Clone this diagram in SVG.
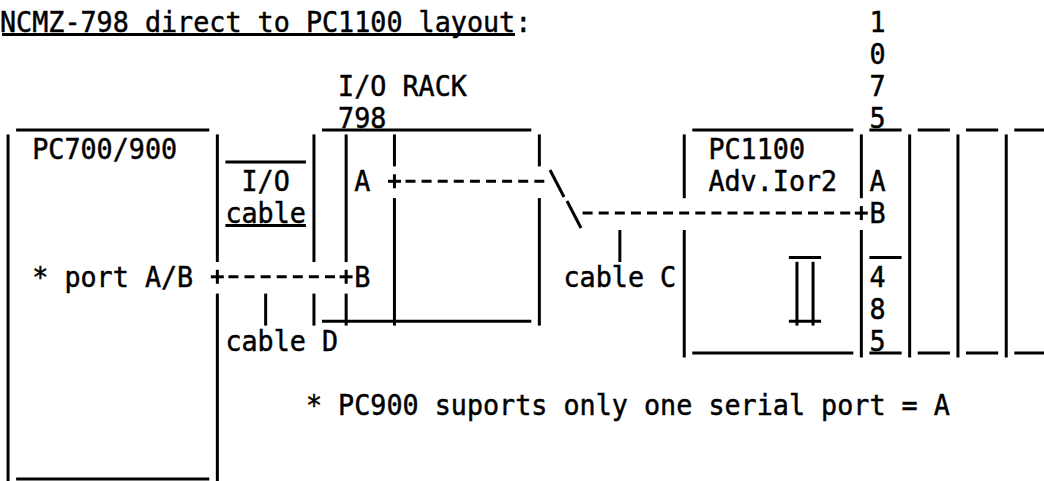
<svg xmlns="http://www.w3.org/2000/svg" width="1044" height="481" viewBox="0 0 1044 481">
<style>
.t{font-family:"DejaVu Sans Mono","Liberation Mono",monospace;font-size:29px;fill:#000;stroke:#000;stroke-width:0.5}
.l{stroke:#000;stroke-width:3;fill:none}
.d{stroke:#000;stroke-width:3;fill:none;stroke-dasharray:10 6.1}
</style>
<rect width="1044" height="481" fill="#fff"/>
<g id="title">
<text class="t" x="0" y="32" textLength="531.3" lengthAdjust="spacingAndGlyphs">NCMZ-798 direct to PC1100 layout:</text>
<line class="l" x1="2" y1="34.5" x2="515" y2="34.5"/>
</g>
<g id="pc700">
<line class="l" x1="16.1" y1="130" x2="209.3" y2="130"/>
<line class="l" x1="16.1" y1="479" x2="209.3" y2="479"/>
<line class="l" x1="8.05" y1="134.4" x2="8.05" y2="481"/>
<line class="l" x1="217.35" y1="134.4" x2="217.35" y2="262"/>
<line class="l" x1="217.35" y1="293.6" x2="217.35" y2="481"/>
<text class="t" x="32.2" y="159.4" textLength="144.9" lengthAdjust="spacingAndGlyphs">PC700/900</text>
<text class="t" x="32.2" y="286.8" textLength="161" lengthAdjust="spacingAndGlyphs">* port A/B</text>
</g>
<g id="io-cable">
<line class="l" x1="225.4" y1="161.9" x2="305.9" y2="161.9"/>
<text class="t" x="241.5" y="191.25" textLength="48.3" lengthAdjust="spacingAndGlyphs">I/O</text>
<text class="t" x="225.4" y="223.1" textLength="80.5" lengthAdjust="spacingAndGlyphs">cable</text>
<line class="l" x1="225.4" y1="225.6" x2="305.9" y2="225.6"/>
<line class="l" x1="313.95" y1="134.4" x2="313.95" y2="262"/>
<line class="l" x1="313.95" y1="293.6" x2="313.95" y2="325.6"/>
<line class="l" x1="265.65" y1="293.6" x2="265.65" y2="325.6"/>
<text class="t" x="225.4" y="350.5" textLength="112.7" lengthAdjust="spacingAndGlyphs">cable D</text>
</g>
<g id="io-rack">
<text class="t" x="338.1" y="95.7" textLength="128.8" lengthAdjust="spacingAndGlyphs">I/O RACK</text>
<text class="t" x="338.1" y="127.55" textLength="48.3" lengthAdjust="spacingAndGlyphs">798</text>
<line class="l" x1="322" y1="130" x2="531.3" y2="130"/>
<line class="l" x1="322" y1="321.2" x2="531.3" y2="321.2"/>
<line class="l" x1="346.15" y1="134.4" x2="346.15" y2="262"/>
<line class="l" x1="346.15" y1="293.6" x2="346.15" y2="325.6"/>
<line class="l" x1="394.45" y1="134.4" x2="394.45" y2="166.4"/>
<line class="l" x1="394.45" y1="198.1" x2="394.45" y2="325.6"/>
<line class="l" x1="539.35" y1="134.4" x2="539.35" y2="166.4"/>
<line class="l" x1="539.35" y1="198.1" x2="539.35" y2="325.6"/>
<text class="t" x="354.2" y="191.25" textLength="16.1" lengthAdjust="spacingAndGlyphs">A</text>
<text class="t" x="354.2" y="286.8" textLength="16.1" lengthAdjust="spacingAndGlyphs">B</text>
</g>
<g id="pc1100">
<line class="l" x1="692.3" y1="130" x2="853.3" y2="130"/>
<line class="l" x1="692.3" y1="353" x2="853.3" y2="353"/>
<line class="l" x1="684.25" y1="134.4" x2="684.25" y2="198.2"/>
<line class="l" x1="684.25" y1="230" x2="684.25" y2="357.5"/>
<line class="l" x1="861.35" y1="134.4" x2="861.35" y2="198.2"/>
<line class="l" x1="861.35" y1="230" x2="861.35" y2="357.5"/>
<text class="t" x="708.4" y="159.4" textLength="96.6" lengthAdjust="spacingAndGlyphs">PC1100</text>
<text class="t" x="708.4" y="191.25" textLength="128.8" lengthAdjust="spacingAndGlyphs">Adv.Ior2</text>
<line class="l" x1="788.9" y1="257.5" x2="821.1" y2="257.5"/>
<line class="l" x1="796.95" y1="261.8" x2="796.95" y2="325.6"/>
<line class="l" x1="813.05" y1="261.8" x2="813.05" y2="325.6"/>
<line class="l" x1="788.9" y1="321.2" x2="821.1" y2="321.2"/>
</g>
<g id="rack-1075">
<text class="t" x="869.4" y="32" textLength="16.1" lengthAdjust="spacingAndGlyphs">1</text>
<text class="t" x="869.4" y="63.85" textLength="16.1" lengthAdjust="spacingAndGlyphs">0</text>
<text class="t" x="869.4" y="95.7" textLength="16.1" lengthAdjust="spacingAndGlyphs">7</text>
<text class="t" x="869.4" y="127.55" textLength="16.1" lengthAdjust="spacingAndGlyphs">5</text>
<text class="t" x="869.4" y="191.25" textLength="16.1" lengthAdjust="spacingAndGlyphs">A</text>
<text class="t" x="869.4" y="223.1" textLength="16.1" lengthAdjust="spacingAndGlyphs">B</text>
<text class="t" x="869.4" y="286.8" textLength="16.1" lengthAdjust="spacingAndGlyphs">4</text>
<text class="t" x="869.4" y="318.65" textLength="16.1" lengthAdjust="spacingAndGlyphs">8</text>
<text class="t" x="869.4" y="350.5" textLength="16.1" lengthAdjust="spacingAndGlyphs">5</text>
<line class="l" x1="869.4" y1="130" x2="901.6" y2="130"/>
<line class="l" x1="917.7" y1="130" x2="949.9" y2="130"/>
<line class="l" x1="966" y1="130" x2="998.2" y2="130"/>
<line class="l" x1="1014.3" y1="130" x2="1044" y2="130"/>
<line class="l" x1="869.4" y1="257.5" x2="901.6" y2="257.5"/>
<line class="l" x1="869.4" y1="353" x2="901.6" y2="353"/>
<line class="l" x1="917.7" y1="353" x2="949.9" y2="353"/>
<line class="l" x1="966" y1="353" x2="998.2" y2="353"/>
<line class="l" x1="1014.3" y1="353" x2="1044" y2="353"/>
<line class="l" x1="909.65" y1="134.4" x2="909.65" y2="357.5"/>
<line class="l" x1="957.95" y1="134.4" x2="957.95" y2="357.5"/>
<line class="l" x1="1006.25" y1="134.4" x2="1006.25" y2="357.5"/>
</g>
<g id="note">
<text class="t" x="305.9" y="415" textLength="644" lengthAdjust="spacingAndGlyphs">* PC900 suports only one serial port = A</text>
</g>
<g id="connectors">
<line class="d" x1="405.5" y1="181.3" x2="544.5" y2="181.3"/>
<line class="l" x1="388" y1="181.3" x2="401" y2="181.3"/>
<line class="l" x1="394.45" y1="174.3" x2="394.45" y2="188.3"/>
<line class="l" x1="550" y1="170" x2="564" y2="197"/>
<line class="l" x1="567" y1="201" x2="581" y2="228"/>
<line class="d" x1="582.6" y1="213.1" x2="853.3" y2="213.1"/>
<line class="l" x1="854.8" y1="213.1" x2="867.8" y2="213.1"/>
<line class="l" x1="861.35" y1="206.1" x2="861.35" y2="220.1"/>
<line class="d" x1="228.4" y1="276.8" x2="335.1" y2="276.8"/>
<line class="l" x1="210.8" y1="276.8" x2="223.8" y2="276.8"/>
<line class="l" x1="217.35" y1="269.8" x2="217.35" y2="283.8"/>
<line class="l" x1="339.6" y1="276.8" x2="352.6" y2="276.8"/>
<line class="l" x1="346.15" y1="269.8" x2="346.15" y2="283.8"/>
<line class="l" x1="619.85" y1="230" x2="619.85" y2="262"/>
<text class="t" x="563.5" y="286.8" textLength="112.7" lengthAdjust="spacingAndGlyphs">cable C</text>
</g>
</svg>
